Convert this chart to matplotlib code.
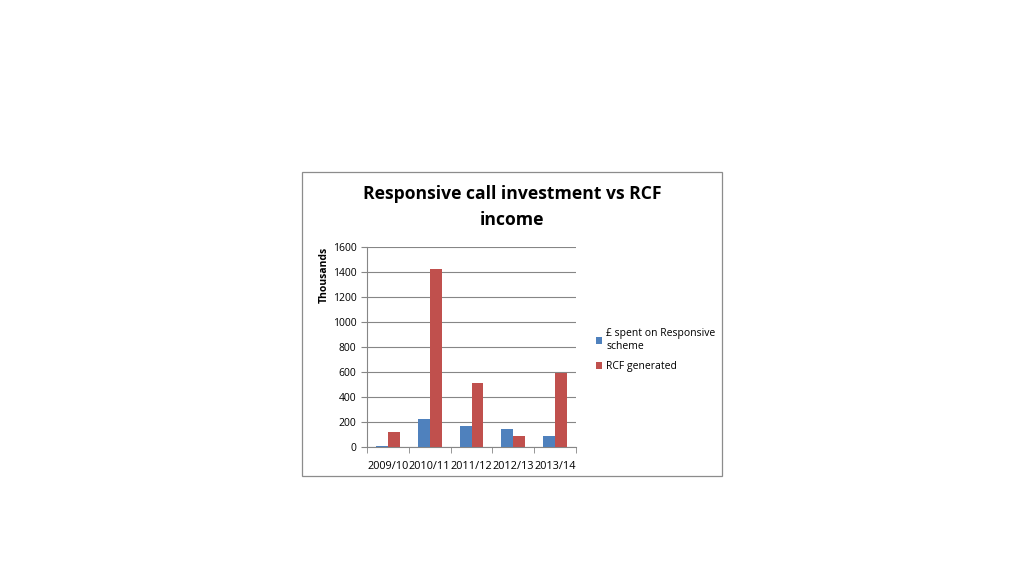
import numpy as np
import matplotlib.pyplot as plt
from matplotlib.patches import Rectangle

plt.rcParams['font.family'] = ['Open Sans', 'DejaVu Sans']

years = ['2009/10', '2010/11', '2011/12', '2012/13', '2013/14']
spent = [8, 220, 170, 140, 85]
rcf = [120, 1425, 515, 85, 590]

fig = plt.figure(figsize=(10.24, 5.76), dpi=100)
fig.patches.append(Rectangle((0.2949, 0.1736), 0.4102, 0.5278, transform=fig.transFigure,
                             fill=False, edgecolor='#8c8c8c', linewidth=0.9))

ax = fig.add_axes([0.3584, 0.224, 0.2041, 0.3472])
x = np.arange(len(years))
w = 0.286
ax.bar(x - w / 2, spent, w, color='#4F81BD', label='£ spent on Responsive\nscheme', zorder=3)
ax.bar(x + w / 2, rcf, w, color='#C0504D', label='RCF generated', zorder=3)

ax.set_xlim(-0.5, len(years) - 0.5)
ax.set_ylim(0, 1600)
ax.set_yticks(range(0, 1601, 200))
ax.yaxis.grid(True, color='#868686', linewidth=0.8, zorder=0)
ax.set_xticks(x)
ax.set_xticklabels(years)
ax.set_xticks(np.arange(-0.5, len(years), 1), minor=True)
ax.tick_params(axis='x', which='major', length=0, labelsize=7.8, pad=10)
ax.tick_params(axis='x', which='minor', length=4, color='#868686')
ax.tick_params(axis='y', length=4, color='#868686', labelsize=7.5)
for s in ['top', 'right']:
    ax.spines[s].set_visible(False)
ax.spines['left'].set_color('#868686')
ax.spines['bottom'].set_color('#868686')
ax.set_ylabel('Thousands', fontsize=7.5, fontweight='bold', labelpad=6)
ax.yaxis.set_label_coords(-0.18, 0.86)

fig.text(0.5, 0.641, 'Responsive call investment vs RCF\nincome', ha='center', va='center',
         fontsize=12.6, fontweight='bold', linespacing=1.55)

ax.legend(loc='upper left', bbox_to_anchor=(1.05, 0.64), frameon=False, fontsize=7.5,
          handlelength=0.6, handleheight=0.6, handletextpad=0.4, labelspacing=0.9)

fig.savefig('out.png', dpi=100)
